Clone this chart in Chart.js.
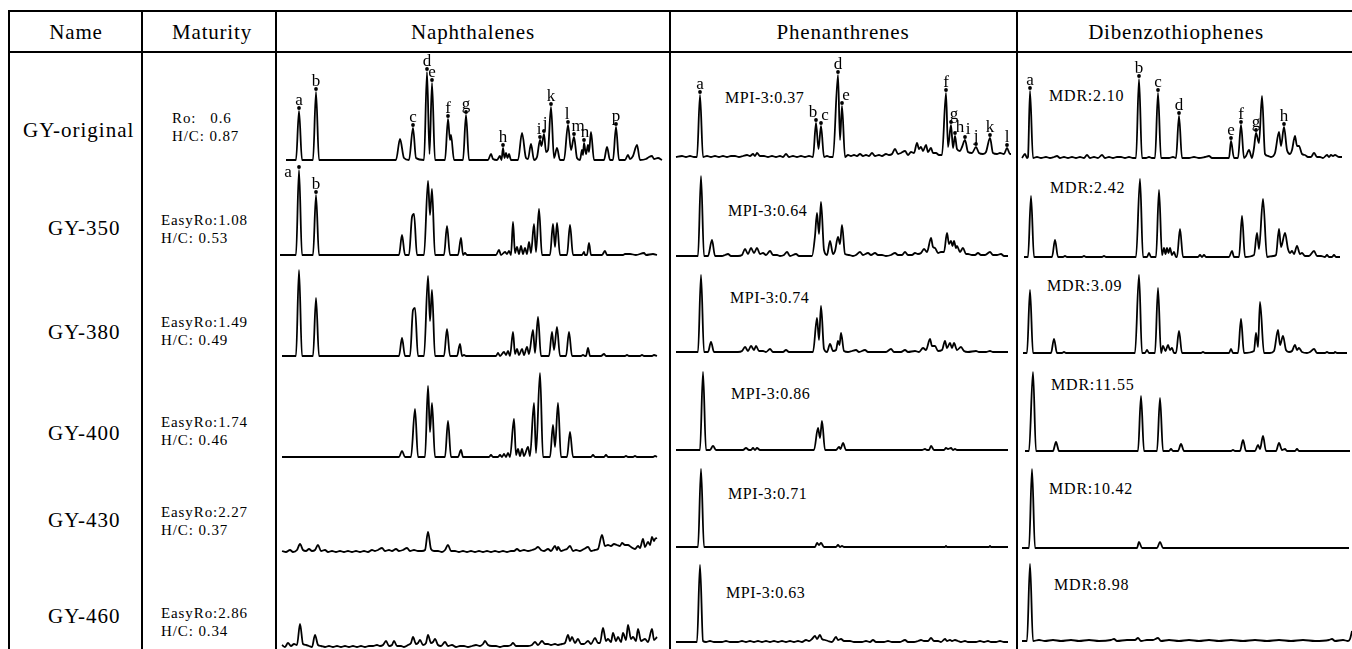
<!DOCTYPE html>
<html>
<head>
<meta charset="utf-8">
<script src="https://cdn.jsdelivr.net/npm/chart.js@4.4.1/dist/chart.umd.min.js"></script>
<style>
  html, body { margin: 0; padding: 0; background: #fff; overflow: hidden; }
  #page { position: relative; width: 1352px; height: 649px; font-family: "Liberation Serif", "DejaVu Serif", serif; color: #000; }
  .rule { position: absolute; background: #000; }
  .txt { position: absolute; white-space: pre; }
  .cell { position: absolute; }
</style>
</head>
<body>
<div id="page"></div>
<script>
// ---- data: table text ----
const columnTitles = ["Name", "Maturity", "Naphthalenes", "Phenanthrenes", "Dibenzothiophenes"];
const sampleNames = ["GY-original", "GY-350", "GY-380", "GY-400", "GY-430", "GY-460"];
const maturityRo = ["Ro:   0.6", "EasyRo:1.08", "EasyRo:1.49", "EasyRo:1.74", "EasyRo:2.27", "EasyRo:2.86"];
const maturityHC = ["H/C: 0.87", "H/C: 0.53", "H/C: 0.49", "H/C: 0.46", "H/C: 0.37", "H/C: 0.34"];
const mpi3 = ["0.37", "0.64", "0.74", "0.86", "0.71", "0.63"];
const mdr = ["2.10", "2.42", "3.09", "11.55", "10.42", "8.98"];

// ---- data: chromatograms, [retention, relative abundance] ----
const naphOriginal = [[8,0],[18,0],[21,49],[24,0],[35,0],[38,68],[41,0],[118,0],[122,21],[126,2],[131,0],[135,32],[138,2],[146,0],[149,88],[151.5,6],[154,77],[157,0],[167,0],[170,41],[172,20],[173,25],[176,0],[185,0],[188,45],[191,0],[210,0],[213,6],[215,1],[219,0],[222,4],[223.5,0],[225,12],[226.5,2],[228,7],[229.5,2],[231,6],[233,0],[240,0],[244,27],[248,2],[250,1],[253,16],[256,0],[259,3],[262,20],[263.5,14],[266,26],[268,8],[270,10],[273,53],[276,2],[279,12],[282,0],[286,0],[290,35],[293,10],[296,23],[299,2],[302,0],[304,10],[305,5],[306,17],[308,6],[310,15],[311,8],[313,28],[316,0],[326,0],[329,13],[332,0],[335,0],[338,33],[341,0],[347,0],[350,5],[352,1],[355,4],[359,15],[362,0],[368,1],[371,3],[374,4],[376,1],[380,2],[384,0]];
const naph350 = [[2,0],[18,0],[21,85],[24,0],[35,0],[38,60],[41,0],[121,0],[124,20],[127,0],[131,0],[134,38],[136,41],[139,0],[146,0],[150,74],[152,40],[154,66],[157,0],[166,0],[169,29],[172,0],[180,0],[183,17],[185,0],[187,2],[189,0],[218,0],[221,5],[223,0],[227,3],[229,1],[231,4],[233,0],[235,33],[237,2],[239,8],[241,1],[243,9],[245,1],[247,7],[249,1],[251,13],[253,2],[256,31],[258,3],[261,46],[264,0],[272,0],[275,31],[277,8],[279,32],[282,0],[289,0],[292,30],[295,0],[304,0],[306,3],[307,0],[309,0],[311,12],[313,0],[324,0],[327,4],[329,0],[345,0],[347,1],[352,1],[358,0],[366,2],[368,0],[375,1],[379,0]];
const naph380 = [[4,0],[18,0],[21,86],[24,0],[35,0],[38,58],[41,0],[121,0],[124,18],[127,0],[132,0],[135,46],[137,48],[140,0],[146,0],[150,80],[152,35],[154,66],[157,0],[166,0],[169,27],[172,0],[179,0],[182,12],[184,0],[186,1],[188,0],[218,0],[220,3],[222,0],[226,4],[228,1],[230,5],[232,0],[235,24],[237,2],[239,7],[241,1],[244,7],[246,1],[249,9],[251,2],[255,26],[257,3],[260,39],[263,0],[271,0],[274,24],[276,6],[279,29],[282,0],[288,0],[291,24],[294,0],[303,0],[305,1],[307,0],[308,0],[310,8],[312,0],[323,0],[326,2],[328,0],[347,0],[349,1],[351,0],[362,0],[364,1],[366,0],[374,0],[376,1],[379,0]];
const naph400 = [[4,0],[121,0],[124,6],[127,0],[133,0],[137,48],[140,0],[147,0],[150,71],[152,25],[154,54],[157,0],[167,0],[170,36],[173,0],[180,0],[183,7],[185,0],[211,0],[213,2],[215,0],[220,0],[222,2],[224,0],[226,3],[228,0],[230,4],[232,0],[236,38],[238,2],[240,8],[242,1],[244,8],[246,1],[250,10],[252,1],[256,54],[258,4],[262,84],[265,0],[272,0],[275,32],[277,10],[280,54],[283,0],[289,0],[292,25],[295,0],[313,0],[315,2],[317,0],[326,0],[328,2],[330,0],[346,0],[348,1],[350,0],[355,0],[357,1],[359,0],[375,0],[377,1],[379,0]];
const naph430 = [[4,1],[8,0],[12,2],[15,0],[19,2],[22,8],[25,2],[28,1],[31,3],[34,1],[37,2],[40,7],[43,1],[47,2],[50,0],[54,1],[58,0],[62,1],[66,0],[70,1],[74,0],[78,1],[82,0],[86,1],[90,0],[94,2],[97,1],[100,2],[104,4],[107,1],[111,2],[114,1],[118,3],[121,1],[125,2],[129,4],[132,1],[136,2],[140,1],[144,1],[147,2],[150,20],[153,3],[156,1],[160,1],[164,0],[167,2],[170,7],[173,1],[177,1],[181,0],[185,1],[189,0],[193,1],[197,0],[201,1],[205,0],[209,1],[213,0],[217,1],[221,0],[225,1],[229,0],[233,1],[236,1],[239,3],[242,1],[246,2],[250,1],[254,2],[257,3],[260,5],[263,2],[266,1],[270,3],[273,1],[277,6],[279,2],[280,5],[283,1],[286,2],[289,3],[292,6],[295,1],[298,2],[302,1],[306,3],[310,5],[313,1],[317,2],[320,3],[324,17],[327,6],[330,7],[333,6],[336,8],[339,7],[342,6],[344,9],[347,7],[350,7],[353,5],[357,3],[360,6],[362,4],[365,13],[367,5],[370,10],[372,7],[374,15],[376,11],[377,13],[379,14]];
const naph460 = [[4,2],[7,0],[10,4],[13,1],[16,3],[19,2],[22,23],[25,3],[28,2],[31,1],[34,0],[37,12],[40,2],[43,1],[47,0],[51,1],[55,0],[59,1],[63,0],[67,1],[71,0],[75,1],[79,0],[83,1],[87,0],[91,1],[95,1],[99,2],[102,1],[105,2],[108,6],[111,1],[114,2],[116,6],[119,1],[123,1],[126,0],[130,2],[133,4],[135,10],[138,3],[140,4],[142,7],[145,2],[148,4],[150,12],[153,4],[155,5],[157,8],[160,2],[163,1],[167,5],[170,1],[174,2],[178,0],[182,1],[186,1],[190,0],[194,1],[198,2],[202,1],[205,3],[207,6],[210,2],[214,1],[218,1],[222,0],[226,1],[230,1],[233,2],[235,4],[238,1],[242,1],[246,1],[250,1],[254,2],[257,5],[260,2],[264,6],[267,3],[270,3],[273,2],[277,3],[280,2],[284,3],[287,4],[290,12],[292,6],[294,10],[297,4],[300,8],[303,3],[306,3],[310,6],[313,3],[317,9],[320,4],[322,4],[325,19],[328,6],[330,8],[333,5],[335,14],[338,6],[340,10],[343,5],[345,14],[348,7],[350,22],[353,8],[355,10],[358,6],[360,18],[363,6],[367,8],[370,5],[374,18],[376,7],[379,10]];

const phenOriginal = [[4,0],[10,1],[14,0],[18,1],[22,0],[25,0],[28,62],[31,0],[35,1],[39,0],[43,1],[47,0],[51,1],[55,0],[59,1],[63,1],[67,0],[71,1],[75,2],[78,1],[81,3],[83,1],[85,4],[88,1],[92,1],[96,0],[100,1],[104,0],[108,1],[111,0],[114,3],[117,0],[121,1],[125,0],[129,1],[133,0],[137,1],[141,0],[144,34],[146.5,8],[149,31],[152,0],[155,1],[158,0],[161,0],[166,82],[168,17],[170,51],[173,0],[176,2],[179,1],[182,2],[185,1],[188,3],[191,1],[194,2],[197,1],[200,4],[203,1],[207,2],[210,1],[214,3],[217,2],[220,3],[223,8],[226,3],[229,4],[233,6],[236,2],[239,5],[242,4],[245,14],[247,8],[249,10],[251,6],[254,12],[256,5],[259,9],[261,4],[264,4],[267,2],[270,2],[274,64],[276,10],[279,32],[281,9],[283,21],[285,8],[288,6],[290,10],[293,17],[296,5],[300,4],[304,10],[307,4],[311,3],[314,5],[318,19],[321,4],[325,3],[328,4],[332,3],[335,9],[338,3],[339,3]];
const phen350 = [[4,0],[26,0],[29,80],[32,0],[36,0],[40,16],[43,0],[50,0],[53,1],[56,2],[59,0],[66,0],[70,1],[73,7],[76,2],[79,8],[82,3],[85,8],[88,2],[91,3],[94,1],[98,5],[101,1],[105,1],[108,0],[112,1],[115,4],[118,0],[124,2],[127,0],[140,0],[143,20],[145,43],[147,22],[149,54],[152,6],[155,1],[158,15],[161,2],[163,5],[166,19],[168,12],[170,31],[173,2],[177,1],[181,0],[184,1],[188,4],[191,1],[196,3],[199,1],[203,3],[206,1],[210,1],[214,0],[219,1],[223,3],[226,1],[230,1],[233,4],[236,1],[240,1],[243,3],[246,2],[249,3],[252,7],[255,4],[259,18],[261,9],[263,8],[266,3],[269,4],[272,4],[275,23],[277,12],[279,15],[280.5,10],[282,15],[284,8],[285,10],[288,4],[291,8],[294,2],[296,2],[300,1],[303,1],[306,3],[309,1],[313,1],[318,4],[321,1],[325,1],[329,2],[332,0],[336,0]];
const phen380 = [[4,0],[26,0],[29,77],[32,0],[36,0],[39,10],[42,0],[66,0],[70,1],[73,5],[76,1],[79,6],[82,2],[84,6],[87,1],[91,1],[94,0],[98,3],[101,0],[111,0],[114,2],[117,0],[141,0],[145,34],[147,12],[149,46],[152,3],[155,0],[158,8],[161,1],[164,2],[166,11],[167.5,7],[169,19],[172,1],[176,0],[180,1],[184,2],[187,0],[193,2],[196,0],[214,0],[219,3],[222,0],[229,0],[233,2],[236,0],[243,1],[247,0],[251,4],[254,2],[258,13],[260,6],[263,6],[266,1],[270,2],[273,11],[275,4],[278,9],[280,4],[282,9],[285,2],[289,5],[292,1],[296,0],[304,1],[307,0],[314,0],[318,1],[321,0],[336,0]];
const phen400 = [[4,0],[28,0],[31,78],[34,0],[38,0],[41,4],[44,0],[71,0],[74,2],[77,0],[79,0],[81,2],[83,0],[85,2],[88,0],[142,0],[146,22],[148,12],[150,29],[153,0],[164,0],[167,3],[168.5,1],[171,7],[174,0],[250,0],[253,1],[255,0],[257,0],[259,4],[262,0],[272,0],[274,2],[276,1],[279,2],[281,0],[283,1],[285,0],[336,0]];
const phen430 = [[4,0],[26,0],[29,78],[32,0],[143,0],[145,4],[147,2],[149,4],[152,0],[164,0],[166,2],[168,0],[170,1],[172,0],[273,0],[274,1],[275,0],[317,0],[318,1],[319,0],[336,0]];
const phen460 = [[4,0],[25,0],[28,77],[31,1],[34,0],[38,1],[42,0],[50,0],[54,1],[58,0],[66,0],[70,1],[74,0],[78,1],[82,0],[86,1],[90,0],[94,1],[98,0],[102,1],[106,0],[110,1],[114,0],[118,1],[122,0],[126,1],[130,0],[134,2],[137,1],[140,3],[143,6],[145,3],[148,7],[150,3],[153,2],[156,1],[160,0],[164,5],[166,2],[169,3],[172,1],[178,1],[182,0],[190,0],[194,1],[198,0],[201,2],[204,0],[212,0],[216,1],[220,0],[228,0],[233,2],[236,0],[242,0],[246,1],[249,2],[252,1],[256,1],[259,4],[262,1],[266,1],[269,0],[273,3],[275,1],[278,2],[280,1],[283,2],[286,1],[289,0],[293,1],[296,0],[304,0],[308,1],[312,0],[316,1],[319,0],[324,0],[328,1],[332,0],[336,0]];

const dbtOriginal = [[3,0],[6,4],[8,0],[9,1],[11,67],[14,0],[18,1],[22,0],[27,1],[31,0],[35,1],[38,2],[41,0],[45,1],[49,0],[53,1],[57,0],[61,1],[65,0],[68,3],[71,0],[75,1],[79,0],[83,3],[86,0],[90,1],[94,0],[98,1],[102,1],[106,0],[110,1],[114,0],[117,0],[120,79],[123,0],[127,0],[130,1],[133,0],[136,0],[139,65],[142,0],[150,0],[154,1],[157,0],[160,42],[163,0],[170,0],[175,1],[180,0],[186,1],[190,2],[193,0],[210,0],[212,17],[215,0],[219,0],[222,33],[225,0],[227,2],[230,8],[233,0],[235,10],[237,25],[240,15],[243,62],[246,4],[249,2],[252,1],[256,5],[260,26],[262,12],[265,31],[268,8],[271,4],[273,8],[276,22],[278,12],[280,12],[283,4],[286,3],[289,1],[292,1],[295,5],[298,1],[301,1],[304,0],[308,3],[310,1],[312,3],[314,2],[316,3],[318,2],[320,1],[323,1]];
const dbt350 = [[5,0],[9,0],[12,61],[15,0],[33,0],[36,17],[39,0],[44,0],[46,1],[48,0],[63,0],[65,1],[67,0],[83,0],[85,1],[87,0],[117,0],[121,78],[124,0],[128,0],[130,4],[132,0],[137,0],[140,67],[143,2],[145,9],[146.5,3],[148,9],[149.5,4],[151,9],[153,2],[155,5],[157,0],[158,0],[161,28],[164,0],[179,0],[181,2],[183,0],[185,2],[187,0],[210,0],[213,6],[215,0],[220,0],[223,41],[226,0],[235,2],[238,24],[240,8],[244,58],[248,0],[254,1],[257,2],[260,28],[262,10],[266,24],[269,8],[271,4],[273,6],[275,3],[278,11],[281,3],[283,4],[286,1],[290,1],[295,6],[298,1],[302,1],[306,0],[308,2],[310,0],[313,0],[315,2],[317,0],[321,0]];
const dbt380 = [[4,0],[8,0],[11,63],[14,0],[32,0],[35,14],[38,0],[43,0],[45,1],[47,0],[116,0],[120,78],[123,0],[126,0],[128,3],[130,0],[136,0],[139,65],[142,0],[144,7],[146.5,2],[149,8],[151,3],[153,5],[155,0],[157,0],[160,22],[163,0],[182,0],[184,1],[186,0],[210,0],[212,4],[214,0],[219,0],[222,34],[225,0],[235,2],[237,20],[239,6],[241,51],[245,0],[251,0],[255,2],[259,23],[261,8],[264,17],[267,3],[270,1],[273,2],[276,8],[278,3],[280,5],[283,1],[288,0],[291,1],[295,4],[298,0],[306,0],[308,1],[310,0],[315,0],[316,1],[318,0],[328,0]];
const dbt400 = [[6,0],[10,0],[14,79],[17,0],[34,0],[37,9],[40,0],[119,0],[122,55],[125,0],[138,0],[141,53],[144,0],[150,0],[152,2],[154,0],[159,0],[162,7],[165,0],[212,0],[214,1],[216,0],[221,0],[224,11],[227,0],[236,0],[239,6],[241,2],[244,15],[247,0],[257,0],[260,8],[263,1],[266,2],[268,0],[276,0],[278,2],[280,0],[331,0]];
const dbt430 = [[3,0],[10,0],[13,79],[16,0],[118,0],[120,6],[123,0],[138,0],[141,6],[144,0],[330,0]];
const dbt460 = [[3,0],[8,0],[11,77],[14,0],[20,1],[26,0],[34,1],[42,0],[52,1],[60,0],[70,1],[80,0],[92,1],[95,2],[98,0],[108,1],[116,1],[119,3],[122,0],[128,1],[134,1],[139,3],[142,0],[150,1],[160,0],[170,1],[180,0],[190,1],[200,0],[212,1],[224,0],[236,1],[248,0],[260,1],[272,0],[284,1],[296,0],[310,1],[313,2],[316,0],[324,1],[329,0],[331,2],[333,10]];

// ---- peak labels (retention of labelled peak, letter) ----
const naphOriginalPeaks = [[21,"a"],[38,"b"],[135,"c"],[149,"d"],[154,"e"],[170,"f"],[188,"g"],[225,"h"],[262,"i"],[266,"j"],[273,"k"],[290,"l"],[296,"m"],[306,"n"],[338,"p"]];
const naph350Peaks = [[21,"a"],[38,"b"]];
const phenOriginalPeaks = [[28,"a"],[144,"b"],[149,"c"],[166,"d"],[170,"e"],[274,"f"],[279,"g"],[283,"h"],[293,"i"],[304,"j"],[318,"k"],[335,"l"]];
const dbtOriginalPeaks = [[11,"a"],[120,"b"],[139,"c"],[160,"d"],[212,"e"],[222,"f"],[237,"g"],[265,"h"]];

// ---- layout (pixels) ----
const columns = [
  { key: "naph", left: 278, width: 390, baselines: [160, 255, 356, 457, 552, 647],
    traces: [naphOriginal, naph350, naph380, naph400, naph430, naph460],
    peaks: [naphOriginalPeaks, naph350Peaks, [], [], [], []] },
  { key: "phen", left: 672, width: 343, baselines: [157, 256, 352, 450, 547, 642],
    traces: [phenOriginal, phen350, phen380, phen400, phen430, phen460],
    peaks: [phenOriginalPeaks, [], [], [], [], []] },
  { key: "dbt", left: 1019, width: 333, baselines: [158, 257, 353, 451, 548, 641],
    traces: [dbtOriginal, dbt350, dbt380, dbt400, dbt430, dbt460],
    peaks: [dbtOriginalPeaks, [], [], [], [], []] },
];
// letter nudges [dx, dy] per column/row/letter
const labelNudge = {
  "naph-1-a": [-11, 13], "naph-0-j": [1, 0], "naph-0-i": [-1, 0], "naph-0-m": [4, 0], "naph-0-l": [-1, 0], "naph-0-n": [1, 0],
  "phen-0-b": [-3, 0], "phen-0-c": [4, 0], "phen-0-e": [4, 0], "phen-0-g": [3, 0], "phen-0-h": [5, 2], "phen-0-i": [3, 0],
};
const nameLeft = [23, 48, 48, 48, 48, 48];
const nameY = [130, 228, 332, 433, 520, 616];
const matLeft = [172, 161, 161, 161, 161, 161];
const matY = [118, 220, 322, 422, 512, 613];
const mpiPos = [[725, 97], [728, 210], [730, 297], [731, 393], [728, 493], [726, 592]];
const mdrPos = [[1049, 95], [1050, 187], [1047, 285], [1051, 384], [1049, 488], [1054, 584]];
const headerCenters = [76, 212, 473, 843, 1176];

const page = document.getElementById("page");

function rule(x, y, w, h) {
  const d = document.createElement("div");
  d.className = "rule";
  Object.assign(d.style, { left: x + "px", top: y + "px", width: w + "px", height: h + "px" });
  page.appendChild(d);
}
function text(str, x, y, size, opts = {}) {
  const d = document.createElement("div");
  d.className = "txt";
  d.textContent = str;
  const lh = Math.round(size * 1.2);
  Object.assign(d.style, {
    top: (y - lh / 2) + "px", fontSize: size + "px", lineHeight: lh + "px",
    letterSpacing: (opts.spacing || 0) + "px",
  });
  if (opts.center) {
    d.style.left = (x - 200) + "px"; d.style.width = "400px"; d.style.textAlign = "center";
  } else {
    d.style.left = x + "px";
  }
  page.appendChild(d);
}

// table rules
rule(8, 10, 1344, 2);
rule(8, 51, 1344, 2);
[8, 141, 275, 669, 1016].forEach(x => rule(x, 10, 2, 640));

// header + row text
columnTitles.forEach((t, i) => text(t, headerCenters[i], 32, 21, { center: true, spacing: 0.8 }));
sampleNames.forEach((n, i) => text(n, nameLeft[i], nameY[i], 21, { spacing: 1 }));
maturityRo.forEach((m, i) => {
  text(m, matLeft[i], matY[i], 15, { spacing: 0.9 });
  text(maturityHC[i], matLeft[i], matY[i] + 18, 15, { spacing: 0.9 });
});
mpi3.forEach((v, i) => text("MPI-3:" + v, mpiPos[i][0], mpiPos[i][1], 16, { spacing: 0.5 }));
mdr.forEach((v, i) => text("MDR:" + v, mdrPos[i][0], mdrPos[i][1], 16, { spacing: 0.8 }));

// peak label plugin: dot above apex, letter above dot
const peakLabels = {
  id: "peakLabels",
  afterDatasetsDraw(chart, args, opts) {
    const items = opts.items || [];
    if (!items.length) return;
    const ctx = chart.ctx;
    const xs = chart.scales.x, ys = chart.scales.y;
    const pts = chart.data.datasets[0].data;
    ctx.save();
    ctx.fillStyle = "#000";
    ctx.font = '17px "Liberation Serif"';
    ctx.textAlign = "center";
    ctx.textBaseline = "alphabetic";
    items.forEach(([t, letter]) => {
      const p = pts.find(q => q.x === t);
      if (!p) return;
      const px = xs.getPixelForValue(t);
      const py = ys.getPixelForValue(p.y);
      const nudge = labelNudge[opts.tag + "-" + letter] || [0, 0];
      ctx.beginPath();
      ctx.arc(px, py - 3, 1.9, 0, Math.PI * 2);
      ctx.fill();
      ctx.fillText(letter, px + nudge[0], py - 6 + nudge[1]);
    });
    ctx.restore();
  },
};

columns.forEach(col => {
  col.traces.forEach((trace, row) => {
    const base = col.baselines[row];
    const top = row === 0 ? 53 : col.baselines[row - 1] + 4;
    const h = base - top + 3;
    const wrap = document.createElement("div");
    wrap.className = "cell";
    Object.assign(wrap.style, { left: col.left + "px", top: top + "px", width: col.width + "px", height: h + "px" });
    const canvas = document.createElement("canvas");
    canvas.width = col.width;
    canvas.height = h;
    wrap.appendChild(canvas);
    page.appendChild(wrap);

    new Chart(canvas, {
      type: "line",
      data: {
        datasets: [{
          data: trace.map(([x, y]) => ({ x, y })),
          borderColor: "#000",
          borderWidth: 1.8,
          pointRadius: 0,
          cubicInterpolationMode: "monotone",
          fill: false,
          borderJoinStyle: "round",
        }],
      },
      options: {
        responsive: false,
        animation: false,
        devicePixelRatio: 1,
        layout: { padding: 0 },
        scales: {
          x: { type: "linear", min: 0, max: col.width, display: false },
          y: { min: -3, max: base - top, display: false },
        },
        plugins: {
          legend: { display: false },
          tooltip: { enabled: false },
          peakLabels: { items: col.peaks[row], tag: col.key + "-" + row },
        },
      },
      plugins: [peakLabels],
    });
  });
});
</script>
</body>
</html>
